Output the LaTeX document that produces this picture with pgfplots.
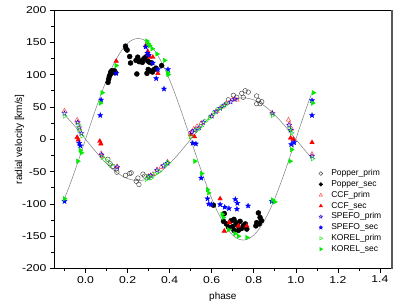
\documentclass[border=0pt]{standalone}
\usepackage{fontspec}
\setmainfont{Liberation Sans}
\newfontfamily\tickfont{Liberation Sans}[FakeStretch=1.22]
\usepackage{pgfplots}
\pgfplotsset{compat=1.18}
\definecolor{kgreen}{RGB}{0,235,0}
\definecolor{cgray}{RGB}{125,125,125}
\pgfdeclareplotmark{fstar}{%
  \pgfpathmoveto{\pgfpointpolar{90}{\pgfplotmarksize}}%
  \pgfpathlineto{\pgfpointpolar{126}{0.42\pgfplotmarksize}}%
  \pgfpathlineto{\pgfpointpolar{162}{\pgfplotmarksize}}%
  \pgfpathlineto{\pgfpointpolar{198}{0.42\pgfplotmarksize}}%
  \pgfpathlineto{\pgfpointpolar{234}{\pgfplotmarksize}}%
  \pgfpathlineto{\pgfpointpolar{270}{0.42\pgfplotmarksize}}%
  \pgfpathlineto{\pgfpointpolar{306}{\pgfplotmarksize}}%
  \pgfpathlineto{\pgfpointpolar{342}{0.42\pgfplotmarksize}}%
  \pgfpathlineto{\pgfpointpolar{18}{\pgfplotmarksize}}%
  \pgfpathlineto{\pgfpointpolar{54}{0.42\pgfplotmarksize}}%
  \pgfpathclose
  \pgfusepathqfillstroke}
\pgfdeclareplotmark{ostar}{%
  \pgfpathmoveto{\pgfpointpolar{90}{\pgfplotmarksize}}%
  \pgfpathlineto{\pgfpointpolar{126}{0.42\pgfplotmarksize}}%
  \pgfpathlineto{\pgfpointpolar{162}{\pgfplotmarksize}}%
  \pgfpathlineto{\pgfpointpolar{198}{0.42\pgfplotmarksize}}%
  \pgfpathlineto{\pgfpointpolar{234}{\pgfplotmarksize}}%
  \pgfpathlineto{\pgfpointpolar{270}{0.42\pgfplotmarksize}}%
  \pgfpathlineto{\pgfpointpolar{306}{\pgfplotmarksize}}%
  \pgfpathlineto{\pgfpointpolar{342}{0.42\pgfplotmarksize}}%
  \pgfpathlineto{\pgfpointpolar{18}{\pgfplotmarksize}}%
  \pgfpathlineto{\pgfpointpolar{54}{0.42\pgfplotmarksize}}%
  \pgfpathclose
  \pgfusepathqstroke}
\begin{document}
\begin{tikzpicture}
\begin{axis}[
  scale only axis, width=337.7bp, height=258.5bp,
  xmin=-0.15, xmax=1.456, ymin=-200, ymax=200,
  clip=false,
  xtick={0,0.2,0.4,0.6,0.8,1.0,1.2,1.4},
  minor xtick={-0.1,0.1,0.3,0.5,0.7,0.9,1.1,1.3},
  ytick={-200,-150,-100,-50,0,50,100,150,200},
  minor ytick={-175,-125,-75,-25,25,75,125,175},
  tick align=outside, tick pos=left,
  major tick length=4bp, minor tick length=2.5bp,
  tick style={black, line width=0.6bp},
  axis line style={line width=0.9bp},
  ticklabel style={font=\tickfont\fontsize{10bp}{12bp}\selectfont},
  /pgf/number format/assume math mode=true,
  xticklabel style={/pgf/number format/.cd, fixed, fixed zerofill, precision=1},
  yticklabel style={/pgf/number format/.cd, fixed, precision=0},
  xlabel={phase}, ylabel={radial velocity [km/s]},
  label style={font=\fontsize{10bp}{12bp}\selectfont},
  xlabel style={at={(axis description cs:0.5,-0.12)}, anchor=base},
  ylabel style={at={(axis description cs:-0.102,0.5)}, anchor=center},
  legend cell align=left,
  legend image post style={mark size=1.9bp},
  legend style={at={(rel axis cs:0.784,0.389)}, anchor=north west, draw=none, fill=none,
    inner sep=0pt, font=\fontsize{8.5bp}{10bp}\selectfont,
    /tikz/every odd column/.append style={column sep=7bp},
    nodes={inner sep=1.5bp, text height=6bp, text depth=1.8bp}},
]
\coordinate (sw) at (rel axis cs:0,0);
\coordinate (ne) at (rel axis cs:1,1);
% fitted curves
\addplot[cgray, line width=0.5bp, smooth, forget plot] coordinates {
(-0.100,37.6) (-0.075,29.1) (-0.050,19.8) (-0.025,10.0) (0.000,0) (0.025,-10.0) (0.050,-19.8) (0.075,-29.1)
(0.100,-37.6) (0.125,-45.3) (0.150,-51.8) (0.175,-57.0) (0.200,-60.9) (0.225,-63.2) (0.250,-64) (0.275,-63.2)
(0.300,-60.9) (0.325,-57.0) (0.350,-51.8) (0.375,-45.3) (0.400,-37.6) (0.425,-29.1) (0.450,-19.8) (0.475,-10.0)
(0.500,0) (0.525,10.0) (0.550,19.8) (0.575,29.1) (0.600,37.6) (0.625,45.3) (0.650,51.8) (0.675,57.0)
(0.700,60.9) (0.725,63.2) (0.750,64) (0.775,63.2) (0.800,60.9) (0.825,57.0) (0.850,51.8) (0.875,45.3)
(0.900,37.6) (0.925,29.1) (0.950,19.8) (0.975,10.0) (1.000,0) (1.025,-10.0) (1.050,-19.8) (1.075,-29.1)};
\addplot[cgray, line width=0.5bp, smooth, forget plot] coordinates {
(-0.100,-91.7) (-0.075,-70.8) (-0.050,-48.2) (-0.025,-24.4) (0.000,0) (0.025,24.4) (0.050,48.2) (0.075,70.8)
(0.100,91.7) (0.125,110.3) (0.150,126.2) (0.175,139.0) (0.200,148.4) (0.225,154.1) (0.250,156) (0.275,154.1)
(0.300,148.4) (0.325,139.0) (0.350,126.2) (0.375,110.3) (0.400,91.7) (0.425,70.8) (0.450,48.2) (0.475,24.4)
(0.500,0) (0.525,-24.4) (0.550,-48.2) (0.575,-70.8) (0.600,-91.7) (0.625,-110.3) (0.650,-126.2) (0.675,-139.0)
(0.700,-148.4) (0.725,-154.1) (0.750,-156) (0.775,-154.1) (0.800,-148.4) (0.825,-139.0) (0.850,-126.2) (0.875,-110.3)
(0.900,-91.7) (0.925,-70.8) (0.950,-48.2) (0.975,-24.4) (1.000,0) (1.025,24.4) (1.050,48.2) (1.075,70.8)};
% Popper_prim
\addplot[only marks, mark=o, mark size=2.3bp, black!75, line width=0.45bp] coordinates {
(0.106,-31) (0.117,-38) (0.130,-42) (0.146,-46) (0.149,-51) (0.190,-56) (0.210,-53) (0.217,-52)
(0.241,-65) (0.249,-60) (0.254,-70) (0.273,-54) (0.281,-57)
(0.679,61) (0.703,68) (0.719,65) (0.743,71) (0.759,75) (0.774,73) (0.750,65)
(0.814,67) (0.822,60) (0.830,55) (0.838,58) (0.814,55)};
\addlegendentry{Popper\_prim}
% Popper_sec
\addplot[only marks, mark=*, mark size=2.5bp, black] coordinates {
(0.107,88) (0.110,93) (0.113,97) (0.117,100) (0.120,104) (0.125,106) (0.130,104) (0.137,106) (0.143,103) (0.122,102)
(0.190,144) (0.193,140) (0.198,138) (0.210,128) (0.214,118)
(0.240,122) (0.248,127) (0.255,120) (0.262,121) (0.270,119) (0.276,124) (0.282,126) (0.244,101)
(0.290,128) (0.296,121) (0.305,119) (0.314,118) (0.298,108) (0.308,106) (0.318,104) (0.326,108) (0.292,102) (0.335,110) (0.362,114)
(0.608,-102) (0.660,-115) (0.656,-127) (0.670,-131) (0.680,-136) (0.692,-126) (0.706,-124) (0.715,-129) (0.722,-133)
(0.735,-127) (0.750,-134) (0.727,-141) (0.706,-141) (0.742,-138) (0.767,-139) (0.810,-134) (0.814,-129) (0.822,-114)
(0.830,-121) (0.837,-126) (0.826,-131) (0.700,-135) (0.760,-131)};
\addlegendentry{Popper\_sec}
% CCF_prim
\addplot[only marks, mark=triangle, mark size=2.6bp, red!80, line width=0.4bp] coordinates {
(-0.100,44) (-0.040,30) (-0.036,26) (-0.028,16) (0.074,-22) (0.080,-26) (0.150,-42) (0.300,-57) (0.320,-54)
(0.340,-47) (0.360,-43) (0.390,-35) (0.500,10) (0.515,16) (0.530,20) (0.550,25) (0.600,36) (0.625,43) (0.650,50)
(0.670,56) (0.700,62) (0.720,61) (0.887,41) (0.965,30) (0.970,24) (0.980,16) (1.077,-23)};
\addlegendentry{CCF\_prim}
% CCF_sec
\addplot[only marks, mark=triangle*, mark size=2.6bp, red] coordinates {
(-0.040,3) (-0.035,-1) (0.068,-3) (0.073,-7) (0.146,121) (0.286,145) (0.296,136) (0.300,131) (0.305,127) (0.320,127)
(0.344,102) (0.500,7) (0.518,4) (0.640,-92) (0.684,-129) (0.727,-134) (0.767,-134) (0.660,-142) (0.975,2) (0.988,0) (1.077,-5)};
\addlegendentry{CCF\_sec}
% SPEFO_prim
\addplot[only marks, mark=ostar, mark size=2.6bp, blue!70!violet, line width=0.4bp] coordinates {
(-0.100,40) (-0.038,26) (-0.030,18) (-0.020,9) (0.076,-24) (0.150,-43) (0.300,-59) (0.310,-56) (0.340,-48) (0.370,-41)
(0.390,-37) (0.505,11) (0.520,14) (0.540,18) (0.560,26) (0.600,36) (0.620,43) (0.640,48) (0.660,53) (0.690,58) (0.710,62)
(0.889,40) (0.968,22) (0.975,14) (1.077,-26)};
\addlegendentry{SPEFO\_prim}
% SPEFO_sec
\addplot[only marks, mark=fstar, mark size=2.6bp, blue] coordinates {
(-0.100,-96) (-0.030,-6) (-0.025,-10) (0.070,37) (0.074,61) (0.146,102) (0.286,143) (0.294,133) (0.300,130) (0.320,118)
(0.336,94) (0.344,108) (0.373,78) (0.392,108) (0.510,-6) (0.525,-7) (0.550,-60) (0.580,-92) (0.586,-100) (0.598,-101)
(0.640,-101) (0.662,-105) (0.682,-107) (0.712,-93) (0.722,-99) (0.720,-108) (0.773,-103) (0.886,-96) (0.978,-8) (0.992,-5)
(1.077,60) (1.077,37)};
\addlegendentry{SPEFO\_sec}
% KOREL_prim
\addplot[only marks, mark=triangle, mark size=2.6bp, mark options={rotate=-90}, kgreen, line width=0.4bp] coordinates {
(-0.100,36) (-0.034,22) (-0.030,14) (-0.018,5) (0.080,-28) (0.100,-33) (0.120,-40) (0.290,-62) (0.300,-58) (0.312,-60)
(0.330,-54) (0.350,-50) (0.380,-40) (0.392,-36) (0.500,4) (0.530,14) (0.550,20) (0.570,28) (0.590,33) (0.610,40)
(0.630,46) (0.650,50) (0.670,54) (0.890,37) (0.970,16) (0.980,10) (1.080,-30)};
\addlegendentry{KOREL\_prim}
% KOREL_sec
\addplot[only marks, mark=triangle*, mark size=2.6bp, mark options={rotate=-90}, kgreen] coordinates {
(-0.100,-92) (-0.037,-34) (-0.025,-17) (-0.020,-21) (0.071,56) (0.079,72) (0.146,114) (0.292,152) (0.298,148) (0.305,145)
(0.317,140) (0.340,132) (0.376,122) (0.393,100) (0.390,103) (0.520,-34) (0.552,-53) (0.580,-78) (0.585,-83) (0.650,-116)
(0.655,-121) (0.680,-140) (0.710,-146) (0.727,-150) (0.767,-152) (0.890,-94) (0.900,-97) (0.973,-34) (0.980,-16)
(1.084,72) (1.080,56)};
\addlegendentry{KOREL\_sec}
\draw[line width=1.6bp, black!65] (rel axis cs:1,0) -- (rel axis cs:1,1);
\end{axis}
\pgfresetboundingbox
\useasboundingbox ([xshift=-54bp,yshift=-36.5bp]sw) rectangle ([xshift=7.3bp,yshift=10bp]ne);
\end{tikzpicture}
\end{document}
